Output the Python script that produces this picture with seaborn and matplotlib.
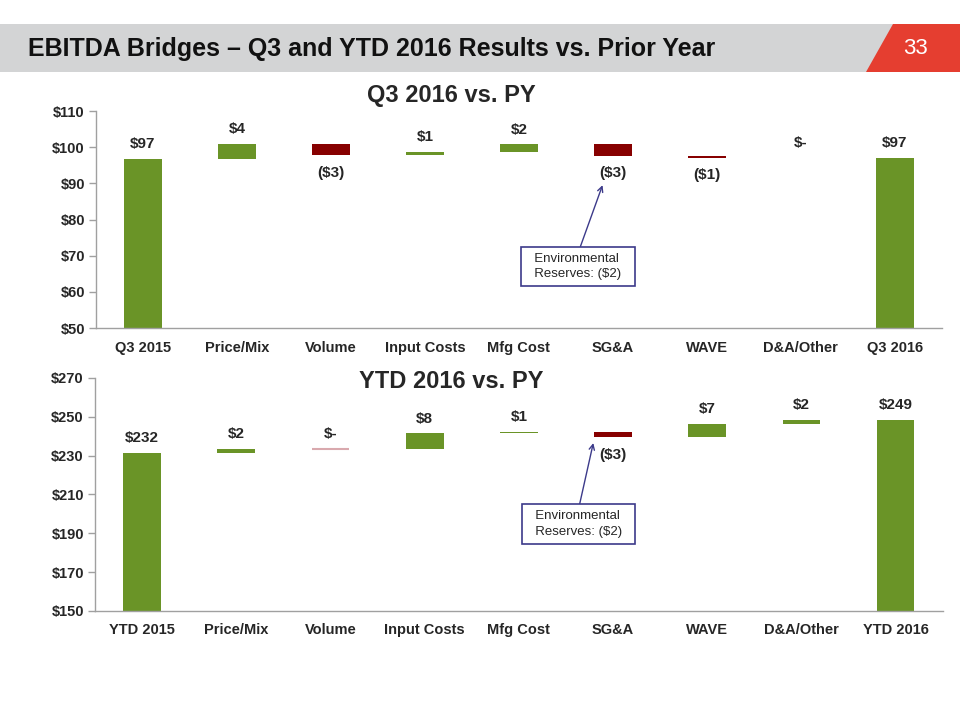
import matplotlib
matplotlib.use("Agg")
import matplotlib.pyplot as plt
from matplotlib.patches import Polygon, Rectangle
import seaborn as sns
import numpy as np

# ---------------- data ----------------
q3_categories = ["Q3 2015", "Price/Mix", "Volume", "Input Costs", "Mfg Cost",
                 "SG&A", "WAVE", "D&A/Other", "Q3 2016"]
q3_start = 96.8
q3_deltas = [4.1, -3.1, 0.9, 2.1, -3.1, -0.7, 0.0]
q3_labels = ["$97", "$4", "($3)", "$1", "$2", "($3)", "($1)", "$-", "$97"]
q3_ticks = [50, 60, 70, 80, 90, 100, 110]

ytd_categories = ["YTD 2015", "Price/Mix", "Volume", "Input Costs", "Mfg Cost",
                  "SG&A", "WAVE", "D&A/Other", "YTD 2016"]
ytd_start = 231.5
ytd_deltas = [2.0, 0.0, 8.0, 0.8, -2.9, 7.0, 2.0]
ytd_labels = ["$232", "$2", "$-", "$8", "$1", "($3)", "$7", "$2", "$249"]
ytd_ticks = [150, 170, 190, 210, 230, 250, 270]

note_text = "  Environmental  \n  Reserves: ($2)  "

GREEN = "#6A9427"
RED = "#870000"
NOTE = "#3C3A8A"

sns.set_style("white")
plt.rcParams["font.family"] = ["Liberation Sans", "DejaVu Sans"]

fig = plt.figure(figsize=(9.6, 7.2), dpi=100)

# ---------------- header band ----------------
hdr = fig.add_axes([0, 0, 1, 1], zorder=0)
hdr.set_xlim(0, 960)
hdr.set_ylim(720, 0)
hdr.axis("off")
hdr.add_patch(Rectangle((0, 24), 960, 48, facecolor="#D3D4D5", edgecolor="none"))
hdr.add_patch(Polygon([(893, 24), (960, 24), (960, 72), (866, 72)],
                      closed=True, facecolor="#E53E30", edgecolor="none"))
hdr.text(28, 49, "EBITDA Bridges \u2013 Q3 and YTD 2016 Results vs. Prior Year",
         fontsize=18, fontweight="bold", va="center", ha="left",
         family=["Liberation Sans Narrow", "Liberation Sans", "DejaVu Sans"], color="#111111")
hdr.text(915, 48, "33", fontsize=16, color="white", va="center", ha="center",
         family=["Liberation Sans Narrow", "Liberation Sans", "DejaVu Sans"])


def waterfall(ax, cats, start, deltas, labels, ticks, zero_edge):
    n = len(cats)
    running = [start]
    for d in deltas:
        running.append(running[-1] + d)
    end = running[-1]
    bottoms = [0.0]
    heights = [start]
    for i, d in enumerate(deltas):
        lo = min(running[i], running[i + 1])
        bottoms.append(lo)
        heights.append(abs(d))
    bottoms.append(0.0)
    heights.append(end)

    sns.barplot(x=cats, y=heights, bottom=bottoms, color=GREEN, width=0.4,
                saturation=1, errorbar=None, ax=ax, linewidth=0)
    vals = [start] + deltas + [end]
    for i, p in enumerate(ax.patches):
        v = vals[i]
        if 0 < i < n - 1 and v < 0:
            p.set_facecolor(RED)
        if 0 < i < n - 1 and v == 0 and zero_edge:
            p.set_edgecolor(zero_edge)
            p.set_linewidth(1.5)

    for i, (p, lab) in enumerate(zip(ax.patches, labels)):
        v = vals[i]
        xc = p.get_x() + p.get_width() / 2
        if 0 < i < n - 1 and v < 0:
            y = p.get_y()
            off = -12.5
        else:
            y = p.get_y() + p.get_height()
            off = 10.5
        ax.annotate(lab, (xc, y), xytext=(0, off), textcoords="offset points",
                    ha="center", va="center", fontsize=11, fontweight="bold")

    ax.set_xlim(-0.5, n - 0.5)
    ax.set_ylim(ticks[0], ticks[-1])
    ax.set_yticks(ticks)
    ax.set_yticklabels([f"${t}" for t in ticks], fontsize=10.5, fontweight="bold")
    ax.set_xticks(range(n))
    ax.set_xticklabels(cats, fontsize=10.5, fontweight="bold")
    ax.set_xticks(np.arange(-0.5, n, 1.0), minor=True)
    ax.tick_params(axis="x", which="major", length=0, pad=9)
    ax.tick_params(axis="x", which="minor", length=5, color="#A0A0A0", width=1, direction="out")
    ax.tick_params(axis="y", length=5, color="#A0A0A0", width=1, direction="out", pad=3, left=True)
    for s in ["top", "right"]:
        ax.spines[s].set_visible(False)
    for s in ["left", "bottom"]:
        ax.spines[s].set_color("#A0A0A0")
        ax.spines[s].set_linewidth(1)
    ax.set_xlabel("")
    ax.set_ylabel("")


ax1 = fig.add_axes([0.100, 0.5444, 0.881, 0.3014])
waterfall(ax1, q3_categories, q3_start, q3_deltas, q3_labels, q3_ticks, None)
ax2 = fig.add_axes([0.099, 0.1514, 0.883, 0.3236])
waterfall(ax2, ytd_categories, ytd_start, ytd_deltas, ytd_labels, ytd_ticks, "#D9A9AE")

fig.text(0.470, 0.868, "Q3 2016 vs. PY", fontsize=17, fontweight="bold", ha="center", va="center")
fig.text(0.470, 0.470, "YTD 2016 vs. PY", fontsize=17, fontweight="bold", ha="center", va="center")

box = dict(boxstyle="square,pad=0.45", facecolor="white", edgecolor=NOTE, linewidth=1.2)
arrow = dict(arrowstyle="->", color=NOTE, lw=1, relpos=(0.5, 1.0), shrinkA=0, shrinkB=0)
ax1.annotate(note_text, xy=(4.89, 89.5), xytext=(4.63, 67.0), fontsize=9.5,
             ha="center", va="center", multialignment="left", linespacing=1.35,
             bbox=box, arrowprops=arrow)
ax2.annotate(note_text, xy=(4.79, 236.5), xytext=(4.63, 194.8), fontsize=9.5,
             ha="center", va="center", multialignment="left", linespacing=1.35,
             bbox=box, arrowprops=arrow)

fig.savefig("out.png", dpi=100)
